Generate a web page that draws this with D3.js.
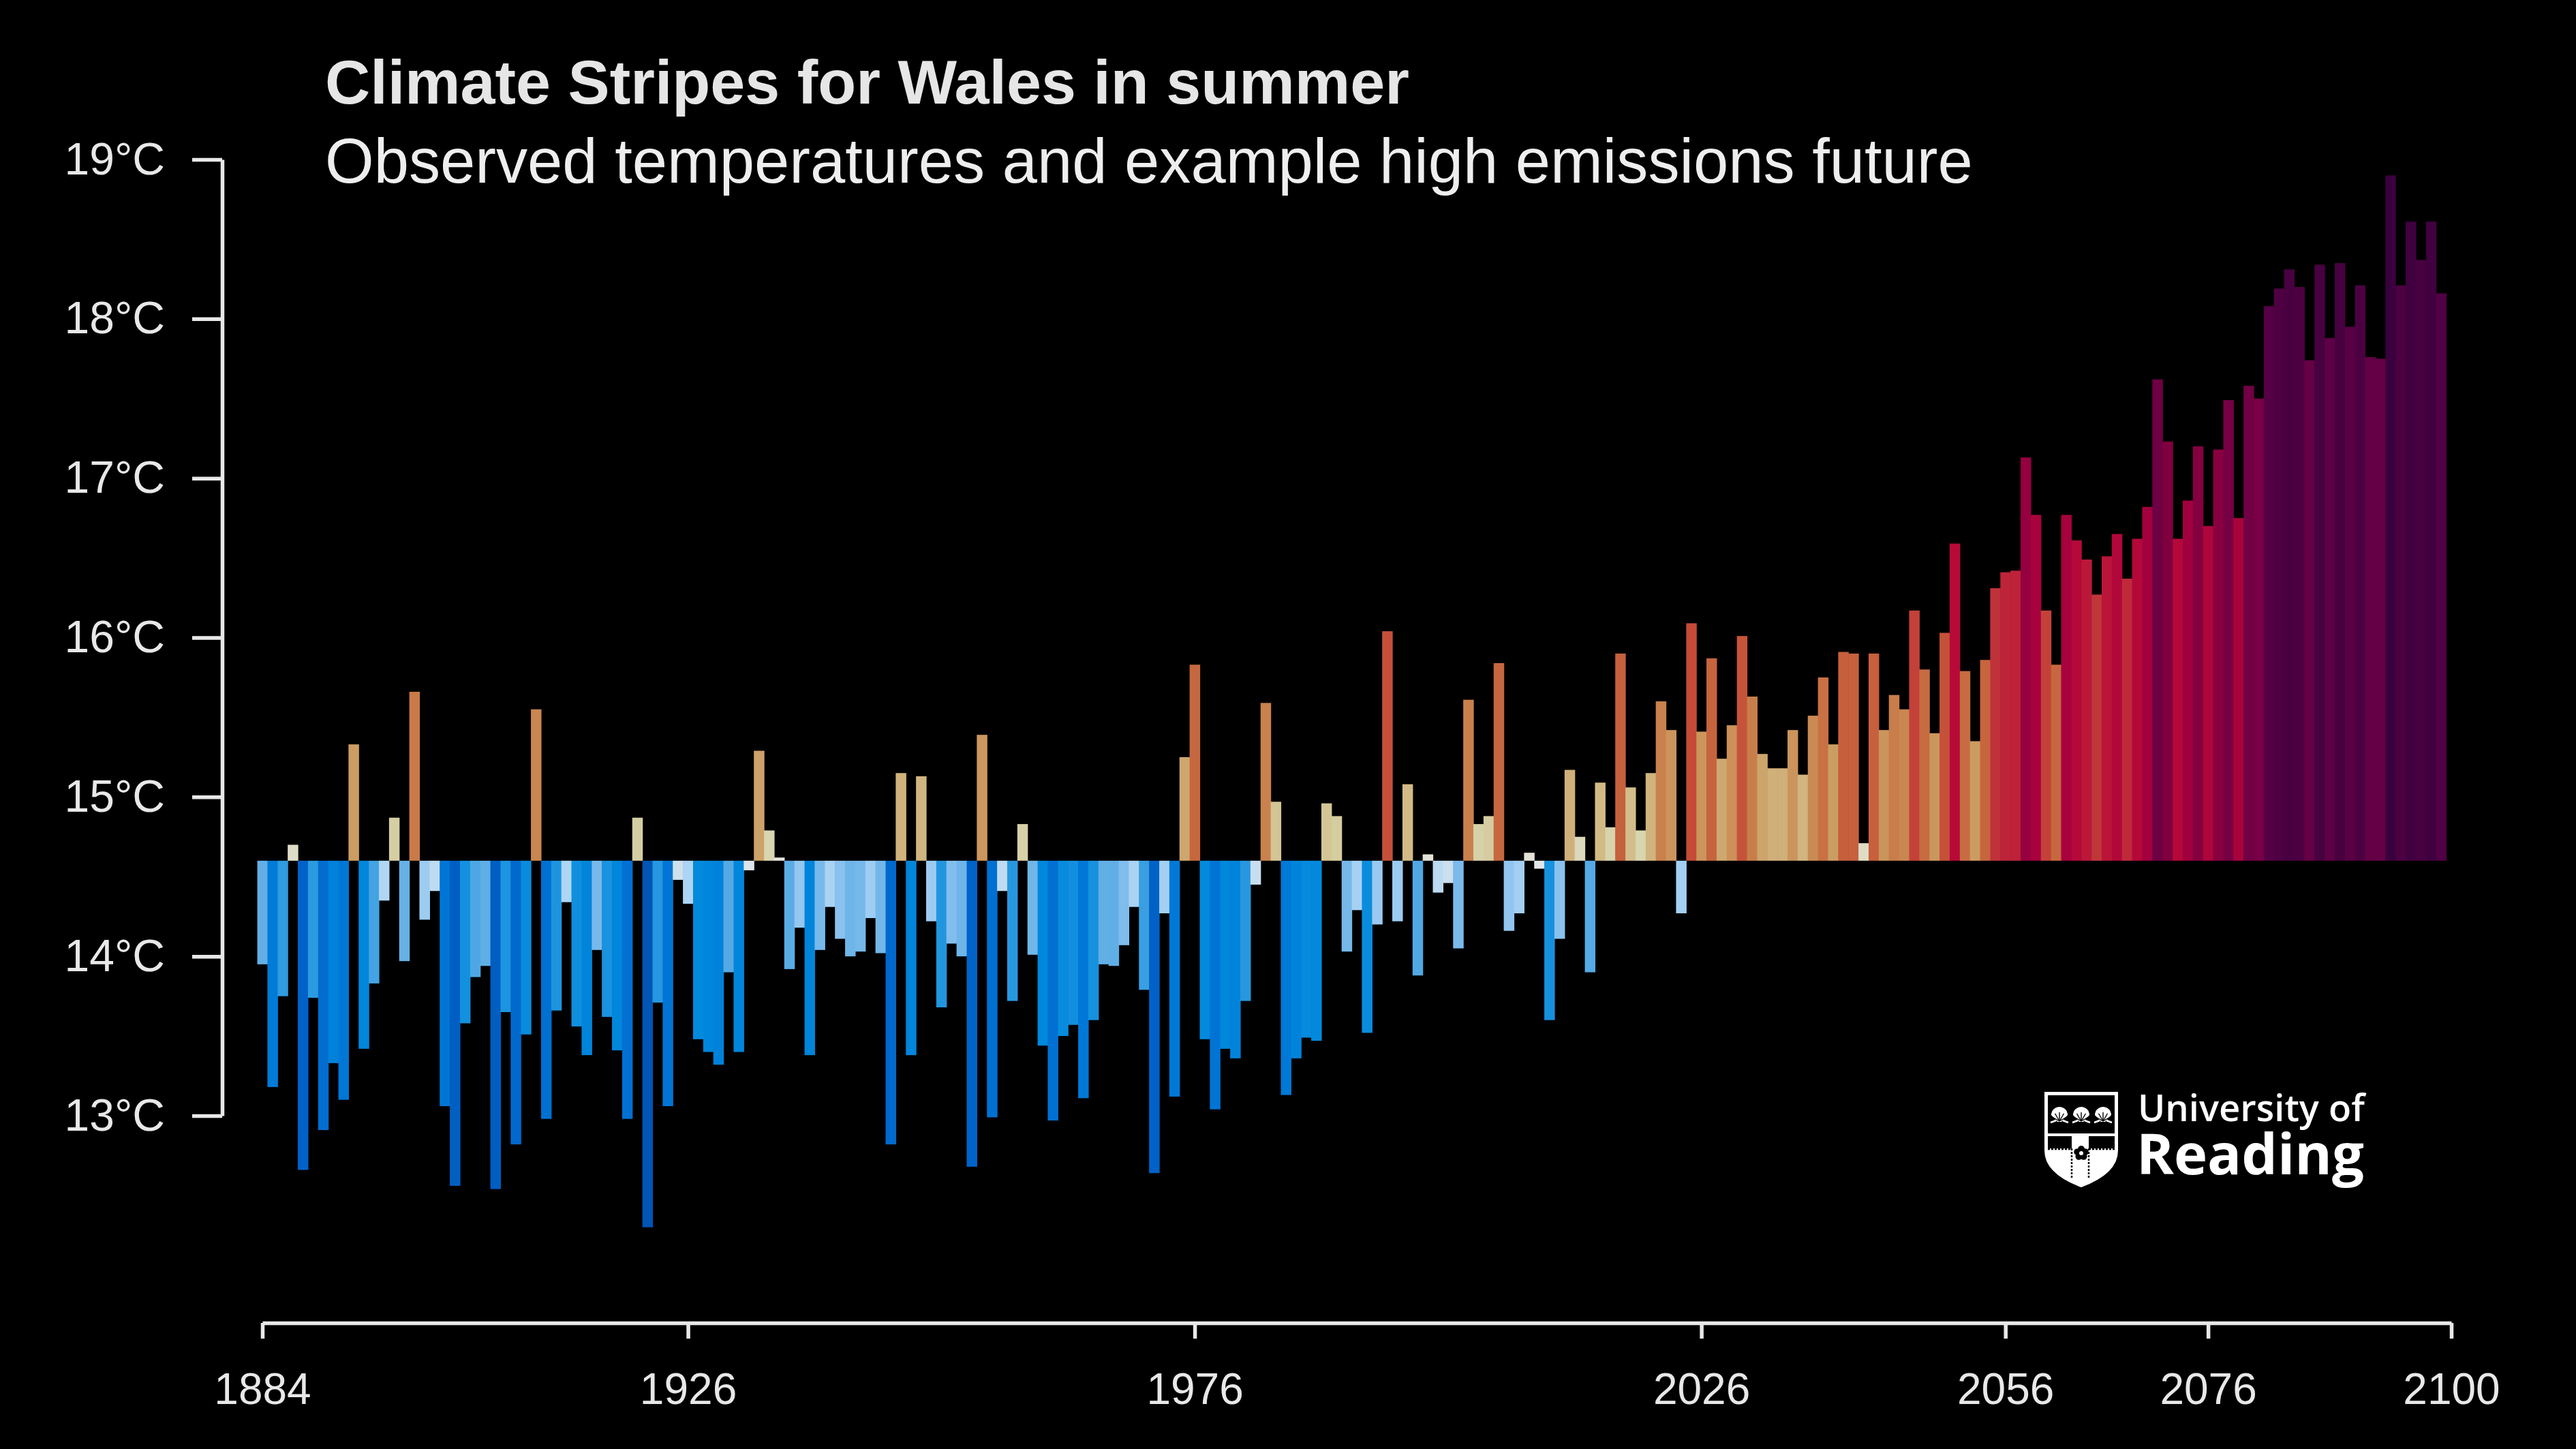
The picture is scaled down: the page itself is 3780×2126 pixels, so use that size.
<!DOCTYPE html>
<html>
<head>
<meta charset="utf-8">
<title>Climate Stripes for Wales in summer</title>
<script src="https://d3js.org/d3.v7.min.js"></script>
<style>
  html, body { margin: 0; padding: 0; background: #000; }
  svg { display: block; }
</style>
</head>
<body>
<div id="chart"></div>
<script>
// summer mean temperature for Wales (°C), one value per year starting at firstYear
const firstYear = 1884;
const summerTemps = [
  13.95, 13.18, 13.75, 14.70, 12.66, 13.74, 12.91, 13.33, 13.10, 15.33, // 1884
  13.42, 13.83, 14.35, 14.87, 13.97, 15.66, 14.23, 14.41, 13.06, 12.56, // 1894
  13.58, 13.87, 13.94, 12.54, 13.65, 12.82, 13.51, 15.55, 12.98, 13.66, // 1904
  14.34, 13.56, 13.38, 14.04, 13.62, 13.41, 12.98, 14.87, 12.30, 13.71, // 1914
  13.06, 14.48, 14.33, 13.48, 13.40, 13.32, 13.90, 13.40, 14.54, 15.29, // 1924
  14.79, 14.62, 13.92, 14.18, 13.38, 14.04, 14.31, 14.11, 14.00, 14.03, // 1934
  14.24, 14.02, 12.82, 15.15, 13.38, 15.13, 14.22, 13.68, 14.08, 14.00, // 1944
  12.68, 15.39, 12.99, 14.41, 13.72, 14.83, 14.01, 13.44, 12.97, 13.50, // 1954
  13.57, 13.11, 13.60, 13.95, 13.94, 14.07, 14.31, 13.79, 12.64, 14.27, // 1964
  13.12, 15.25, 15.83, 13.48, 13.04, 13.42, 13.36, 13.72, 14.45, 15.59, // 1974
  14.97, 13.13, 13.36, 13.49, 13.47, 14.96, 14.88, 14.03, 14.29, 13.52, // 1984
  14.20, 16.04, 14.22, 15.08, 13.88, 14.64, 14.40, 14.46, 14.05, 15.61, // 1994
  14.83, 14.88, 15.84, 14.16, 14.27, 14.65, 14.55, 13.60, 14.11, 15.17, // 2004
  14.75, 13.90, 15.09, 14.81, 15.90, 15.06, 14.79, 15.15, 15.60, 15.42, // 2014
  14.27, 16.09, 15.41, 15.87, 15.24, 15.45, 16.01, 15.63, 15.27, 15.18, // 2024
  15.18, 15.42, 15.14, 15.51, 15.75, 15.33, 15.91, 15.90, 14.71, 15.90, // 2034
  15.42, 15.64, 15.55, 16.17, 15.80, 15.40, 16.03, 16.59, 15.79, 15.35, // 2044
  15.86, 16.31, 16.41, 16.42, 17.13, 16.77, 16.17, 15.83, 16.77, 16.61, // 2054
  16.49, 16.27, 16.51, 16.65, 16.37, 16.62, 16.82, 17.62, 17.23, 16.62, // 2064
  16.86, 17.20, 16.70, 17.18, 17.49, 16.75, 17.58, 17.50, 18.08, 18.19, // 2074
  18.31, 18.20, 17.74, 18.34, 17.88, 18.35, 17.95, 18.21, 17.76, 17.75, // 2084
  18.90, 18.21, 18.61, 18.37, 18.61, 18.16                              // 2094
];
const baselineTemp = 14.6;
const yTickValues = [13, 14, 15, 16, 17, 18, 19];
const xTickValues = [1884, 1926, 1976, 2026, 2056, 2076, 2100];
const yearRange = [1884, 2100];
const tempRange = [13, 19];

const years = d3.range(firstYear, firstYear + summerTemps.length);
const data = years.map((yr, i) => ({ year: yr, temp: summerTemps[i] }));

const W = 3780, H = 2126;
const axisColor = "#e8e8e8";
const font = "'Liberation Sans', Arial, Helvetica, sans-serif";

const svg = d3.select("#chart").append("svg")
    .attr("width", W)
    .attr("height", H)
    .style("background", "#000");

let x = d3.scaleLinear().domain(yearRange).range([385, 3597]);
let y = d3.scaleLinear().domain(tempRange).range([1637, 234]);

// stripe colours run from deep blue through white to dark purple
let color = d3.scaleLinear()
    .domain([12.3, 12.65, 12.9, 13.15, 13.45, 13.72, 13.93, 14.12, 14.35, 14.58,
             14.82, 15.1, 15.32, 15.58, 15.85, 16.08, 16.33, 16.58, 16.82, 17.13,
             17.22, 17.52, 17.62, 17.75, 17.92, 18.08, 18.25, 18.6, 18.9])
    .range(["#0055b5", "#0062c8", "#006ccf", "#007ad8", "#0088dc", "#2798e0", "#5dade5", "#8cc2ef", "#b0d6f4", "#e8e8e8",
            "#d6d2a8", "#d2b985", "#cc9e64", "#c9834e", "#c6663e", "#c54b38", "#c0303a", "#b80a38", "#a3003e", "#950040",
            "#80003f", "#760046", "#6e0044", "#650045", "#5a0045", "#550045", "#4a0040", "#400040", "#3a003d"])
    .clamp(true);

svg.append("g")
    .selectAll("rect")
    .data(data)
    .enter()
    .append("rect")
    .attr("x", d => x(d.year - 0.5))
    .attr("width", d => x(d.year + 0.5) - x(d.year - 0.5) + 0.6)
    .attr("y", d => Math.min(y(d.temp), y(baselineTemp)))
    .attr("height", d => Math.abs(y(d.temp) - y(baselineTemp)))
    .attr("fill", d => color(d.temp));

// axes
let yAxis = d3.axisLeft(y)
    .tickValues(yTickValues)
    .tickSize(44)
    .tickSizeOuter(0)
    .tickPadding(40)
    .tickFormat(d => d + "°C");

let xAxis = d3.axisBottom(x)
    .tickValues(xTickValues)
    .tickSize(23)
    .tickSizeOuter(0)
    .tickFormat(d3.format("d"));

let gy = svg.append("g")
    .attr("transform", "translate(326,0)")
    .call(yAxis);

let gx = svg.append("g")
    .attr("transform", "translate(0,1941)")
    .call(xAxis);

[gy, gx].forEach(g => {
    g.select(".domain").attr("stroke", axisColor).attr("stroke-width", 5.5);
    g.selectAll(".tick line").attr("stroke", axisColor).attr("stroke-width", 5.5);
    g.selectAll(".tick text")
        .attr("fill", axisColor)
        .attr("font-family", font);
});
gy.selectAll(".tick text").attr("font-size", 66);
gx.selectAll(".tick text").attr("font-size", 64).attr("y", 119).attr("dy", 0);

function fitWidth(sel, target) {
    let w = sel.node().getComputedTextLength();
    let fs = parseFloat(sel.attr("font-size"));
    sel.attr("font-size", fs * target / w);
}

// titles
let title = svg.append("text")
    .attr("x", 477)
    .attr("y", 152)
    .attr("font-family", font)
    .attr("font-weight", "bold")
    .attr("font-size", 92)
    .attr("fill", "#e6e6e6")
    .text("Climate Stripes for Wales in summer");
fitWidth(title, 1591);

let subtitle = svg.append("text")
    .attr("x", 477)
    .attr("y", 268)
    .attr("font-family", font)
    .attr("font-size", 92)
    .attr("fill", "#eeeeee")
    .text("Observed temperatures and example high emissions future");
fitWidth(subtitle, 2418);

// University of Reading logo
let logo = svg.append("g").attr("transform", "translate(3000,1602)");

logo.append("path")
    .attr("d", "M0,0 H108 V86 Q108,120 54,140 Q0,120 0,86 Z")
    .attr("fill", "#fff");
logo.append("rect").attr("x", 5).attr("y", 5).attr("width", 98).attr("height", 56).attr("fill", "#000");
logo.append("rect").attr("x", 5).attr("y", 65).attr("width", 35).attr("height", 18).attr("fill", "#000");
logo.append("rect").attr("x", 65).attr("y", 65).attr("width", 38).attr("height", 18).attr("fill", "#000");

[22, 54, 86].forEach(cx => {
    let shell = logo.append("g").attr("transform", "translate(" + cx + ",32)");
    shell.append("path")
        .attr("d", "M-12,2 A12,12 0 0 1 12,2 L3,12 H-3 Z")
        .attr("fill", "#fff");
    shell.append("path")
        .attr("d", "M-13,13 L-5,10 M13,13 L5,10")
        .attr("stroke", "#fff").attr("stroke-width", 2.5);
    [-60, -30, 0, 30, 60].forEach(a => {
        let r = a * Math.PI / 180;
        shell.append("line")
            .attr("x1", 0).attr("y1", 11)
            .attr("x2", 13 * Math.sin(r)).attr("y2", 11 - 13 * Math.cos(r))
            .attr("stroke", "#000").attr("stroke-width", 1.4);
    });
});

logo.append("path")
    .attr("d", "M40,83 V128 M65,83 V128 M5,84 H40 M65,84 H103")
    .attr("stroke", "#000")
    .attr("stroke-width", 2.5)
    .attr("stroke-dasharray", "3,2");

let rose = logo.append("g").attr("transform", "translate(54,90)");
d3.range(5).forEach(i => {
    let a = (i * 72 - 90) * Math.PI / 180;
    rose.append("circle")
        .attr("cx", 6 * Math.cos(a)).attr("cy", 6 * Math.sin(a))
        .attr("r", 5).attr("fill", "#000");
});
rose.append("circle").attr("r", 3).attr("fill", "#fff");

// wordmark: one text element, two lines
let word = svg.append("text")
    .attr("font-family", "'Open Sans', 'Noto Sans', sans-serif")
    .attr("fill", "#fff");

let uni = word.append("tspan")
    .attr("x", 3137)
    .attr("y", 1645)
    .attr("font-weight", 600)
    .attr("font-size", 58)
    .text("University of");
fitWidth(uni, 333);

let reading = word.append("tspan")
    .attr("x", 3135)
    .attr("y", 1723)
    .attr("font-weight", 700)
    .attr("font-size", 80)
    .text("Reading");
fitWidth(reading, 334);
</script>
</body>
</html>
